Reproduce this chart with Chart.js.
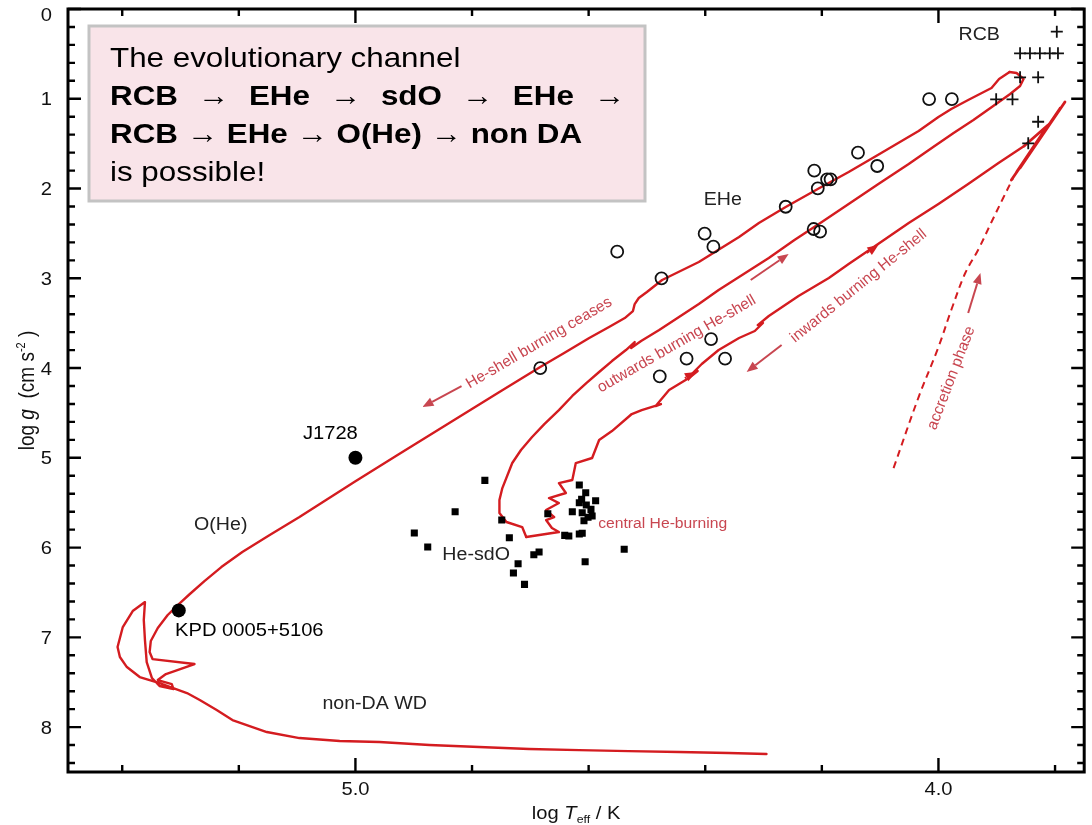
<!DOCTYPE html>
<html>
<head>
<meta charset="utf-8">
<title>Kiel diagram – He-rich stars</title>
<script src="https://cdn.jsdelivr.net/npm/chart.js@4/dist/chart.umd.min.js"></script>
<style>
  html, body { margin: 0; padding: 0; background: #fff; }
  #wrap { width: 1092px; height: 825px; position: relative; }
</style>
</head>
<body>
<div id="wrap"><canvas id="kiel"></canvas></div>
<script>
// ─── Observed stars (log Teff, log g) ─────────────────────────────────────

const rcbTeff = [3.797, 3.860, 3.843, 3.826, 3.809, 3.795, 3.860, 3.829, 3.901, 3.873, 3.829, 3.846];
const rcbLogg = [0.253, 0.494, 0.494, 0.494, 0.494, 0.494, 0.761, 0.761, 1.006, 1.006, 1.256, 1.496];

const eheTeff = [4.551, 4.475, 4.401, 4.386, 4.262, 4.213, 4.191, 4.185, 4.207, 4.138,
                 4.105, 4.214, 4.203, 4.390, 4.432, 4.366, 4.478, 4.683, 4.016, 3.977];
const eheLogg = [2.704, 3.000, 2.503, 2.648, 2.203, 1.801, 1.897, 1.897, 1.998, 1.601,
                 1.749, 2.451, 2.481, 3.677, 3.896, 3.896, 4.092, 4.000, 1.003, 1.003];

const sdoTeff = [4.778, 4.829, 4.899, 4.876, 4.749, 4.736, 4.721, 4.729, 4.710, 4.694,
                 4.685, 4.670, 4.641, 4.634, 4.616, 4.611, 4.606, 4.539, 4.616, 4.605,
                 4.612, 4.588, 4.628, 4.616, 4.604, 4.596, 4.611, 4.594, 4.608, 4.601];
const sdoLogg = [5.251, 5.601, 5.838, 5.994, 5.693, 5.890, 6.180, 6.284, 6.410, 6.080,
                 6.050, 5.623, 5.864, 5.871, 5.849, 5.841, 6.158, 6.019, 5.303, 5.389,
                 5.462, 5.478, 5.601, 5.500, 5.526, 5.574, 5.612, 5.648, 5.701, 5.663];

const hotNames = ['J1728', 'KPD 0005+5106'];
const hotTeff  = [5.000, 5.303];
const hotLogg  = [5.000, 6.700];

// ─── Merger track, split where the phases change ──────────────────────────

const spikeTeff = [3.875, 3.783, 3.860, 3.791, 3.866, 3.812, 3.853];
const spikeLogg = [1.905, 1.036, 1.771, 1.103, 1.816, 1.292, 1.526];

const inwardTeff = [3.853, 3.897, 3.949, 4.000, 4.051, 4.106, 4.154, 4.188, 4.240, 4.291,
                    4.310, 4.301, 4.315, 4.342, 4.377, 4.406, 4.423, 4.413, 4.428, 4.462,
                    4.485, 4.476, 4.509, 4.526, 4.560, 4.582, 4.594, 4.622, 4.628, 4.651,
                    4.639, 4.668, 4.651, 4.673, 4.659, 4.673, 4.663, 4.651, 4.707];
const inwardLogg = [1.526, 1.716, 1.950, 2.172, 2.384, 2.629, 2.841, 2.997, 3.197, 3.420,
                    3.521, 3.498, 3.587, 3.665, 3.799, 3.955, 4.066, 4.033, 4.111, 4.245,
                    4.423, 4.401, 4.468, 4.512, 4.702, 4.802, 5.002, 5.058, 5.247, 5.281,
                    5.392, 5.448, 5.504, 5.582, 5.660, 5.693, 5.782, 5.827, 5.882];

const outwardTeff = [4.707, 4.714, 4.741, 4.753, 4.753, 4.748, 4.731, 4.716, 4.697, 4.676,
                     4.651, 4.628, 4.604, 4.582, 4.560, 4.536, 4.521, 4.527, 4.510, 4.479,
                     4.445, 4.411, 4.377, 4.334, 4.291, 4.247, 4.200, 4.154, 4.103, 4.051,
                     4.009, 3.974, 3.940, 3.906, 3.877, 3.860, 3.854, 3.866, 3.878];
const outwardLogg = [5.882, 5.771, 5.715, 5.615, 5.470, 5.337, 5.058, 4.913, 4.768, 4.624,
                     4.468, 4.311, 4.167, 4.044, 3.922, 3.799, 3.710, 3.777, 3.699, 3.576,
                     3.431, 3.287, 3.131, 2.952, 2.774, 2.574, 2.373, 2.172, 1.950, 1.727,
                     1.537, 1.381, 1.237, 1.081, 0.947, 0.858, 0.780, 0.713, 0.702];

const coolingTeff = [3.878, 3.896, 3.909, 3.949, 3.978, 4.000, 4.034, 4.069, 4.104, 4.154,
                     4.207, 4.262, 4.308, 4.342, 4.411, 4.474, 4.500, 4.514, 4.521, 4.524,
                     4.538, 4.565, 4.599, 4.642, 4.683, 4.753, 4.839, 4.925, 5.002, 5.096,
                     5.147, 5.194, 5.230, 5.259, 5.284, 5.301, 5.322, 5.339, 5.351, 5.353,
                     5.348, 5.276, 5.325, 5.339, 5.315, 5.312, 5.336, 5.349, 5.358, 5.361,
                     5.363, 5.361, 5.382, 5.399, 5.408, 5.404, 5.392, 5.370, 5.336, 5.289,
                     5.267, 5.238, 5.211, 5.152, 5.096, 5.027, 4.959, 4.873, 4.788, 4.702,
                     4.616, 4.531, 4.445, 4.360, 4.295];
const coolingLogg = [0.702, 0.780, 0.880, 1.014, 1.114, 1.203, 1.359, 1.493, 1.627, 1.816,
                     2.005, 2.206, 2.384, 2.540, 2.819, 3.019, 3.153, 3.220, 3.287, 3.365,
                     3.443, 3.543, 3.665, 3.833, 3.988, 4.267, 4.612, 4.958, 5.270, 5.660,
                     5.860, 6.049, 6.217, 6.373, 6.517, 6.618, 6.751, 6.896, 7.041, 7.164,
                     7.242, 7.297, 7.409, 7.476, 7.520, 7.576, 7.542, 7.453, 7.275, 7.030,
                     6.807, 6.607, 6.707, 6.885, 7.108, 7.219, 7.331, 7.442, 7.509, 7.620,
                     7.698, 7.810, 7.921, 8.055, 8.122, 8.155, 8.166, 8.200, 8.222, 8.244,
                     8.256, 8.267, 8.278, 8.289, 8.300];

const accretionTeff = [4.077, 4.034, 4.000, 3.978, 3.954, 3.932, 3.909, 3.889, 3.872];
const accretionLogg = [5.114, 4.323, 3.766, 3.353, 2.941, 2.685, 2.373, 2.106, 1.883];

// ─── Axis ticks ───────────────────────────────────────────────────────────

const xLabelTicks = [4.0, 5.0];
const yLabelTicks = [0, 1, 2, 3, 4, 5, 6, 7, 8];

// ─── Annotations (in data units) ──────────────────────────────────────────

const groupLabels = [
  ['RCB',       3.930, 0.290],
  ['EHe',       4.370, 2.128],
  ['O(He)',     5.231, 5.749],
  ['He-sdO',    4.793, 6.083],
  ['non-DA WD', 4.967, 7.743],
];
const starLabels = [
  [5.043, 4.735],
  [5.182, 6.930],
];
const phaseLabels = [
  ['He-shell burning ceases',   4.685, 3.721, -30.4],
  ['outwards burning He-shell', 4.449, 3.732, -30.0],
  ['inwards burning He-shell',  4.137, 3.086, -39.0],
  ['accretion phase',           3.978, 4.111, -69.0],
];
const centralLabel = ['central He-burning', 4.473, 5.738];

// [from Teff, from log g, to Teff, to log g]
const phaseArrows = [
  [4.818, 4.200, 4.885, 4.434],
  [4.322, 3.019, 4.257, 2.730],
  [4.269, 3.743, 4.329, 4.044],
  [3.949, 3.387, 3.928, 2.941],
];
const trackHeads = [
  [4.123, 2.718, 4.103, 2.629],
  [4.435, 4.111, 4.416, 4.044],
];

// ─── Styles ───────────────────────────────────────────────────────────────

const FONT     = '"Liberation Sans", Arial, Helvetica, sans-serif';
const RED      = 'rgb(212,28,32)';
const NOTE_RED = 'rgb(200,70,80)';
const WIDE     = 1.12;   // text is set a little wide

const pts = (xs, ys) => xs.map((x, i) => ({ x, y: ys[i] }));

function trackSet(xs, ys, extra) {
  return Object.assign({
    data: pts(xs, ys),
    showLine: true,
    borderColor: RED,
    borderWidth: 2.4,
    borderCapStyle: 'round',
    borderJoinStyle: 'round',
    pointRadius: 0,
    tension: 0,
    order: 3,
  }, extra || {});
}

// ─── Drawing helpers ──────────────────────────────────────────────────────

function wideText(ctx, str, x, y, align) {
  ctx.save();
  ctx.translate(x, y);
  ctx.scale(WIDE, 1);
  ctx.textAlign = align || 'left';
  ctx.fillText(str, 0, 0);
  ctx.restore();
}

// parts: [text, font, baseline shift]
function richRow(ctx, parts) {
  let w = 0;
  parts.forEach(p => { ctx.font = p[1]; w += ctx.measureText(p[0]).width; });
  let cx = -w / 2;
  ctx.textAlign = 'left';
  parts.forEach(p => {
    ctx.font = p[1];
    ctx.fillText(p[0], cx, p[2] || 0);
    cx += ctx.measureText(p[0]).width;
  });
}

function arrow(ctx, x0, y0, x1, y1, len, half) {
  const ang = Math.atan2(y1 - y0, x1 - x0);
  const bx = x1 - len * Math.cos(ang), by = y1 - len * Math.sin(ang);
  ctx.beginPath();
  ctx.moveTo(x0, y0);
  ctx.lineTo(bx, by);
  ctx.stroke();
  ctx.beginPath();
  ctx.moveTo(x1, y1);
  ctx.lineTo(bx + half * Math.sin(ang), by - half * Math.cos(ang));
  ctx.lineTo(bx - half * Math.sin(ang), by + half * Math.cos(ang));
  ctx.closePath();
  ctx.fill();
}

// ─── Frame, inward ticks, labels and the note box ─────────────────────────

const kielDecor = {
  id: 'kielDecor',
  afterDraw(chart) {
    const { ctx, chartArea: a, scales: { x, y } } = chart;
    const px = v => x.getPixelForValue(v);
    const py = v => y.getPixelForValue(v);
    const isMajor = (v, list) => list.some(m => Math.abs(m - v) < 1e-6);
    ctx.save();

    // tick marks point into the plot on all four sides
    ctx.strokeStyle = '#000';
    ctx.lineWidth = 2.4;
    ctx.beginPath();
    x.ticks.forEach(t => {
      const p = px(t.value);
      const len = isMajor(t.value, xLabelTicks) ? 14 : 7;
      ctx.moveTo(p, a.bottom); ctx.lineTo(p, a.bottom - len);
      ctx.moveTo(p, a.top);    ctx.lineTo(p, a.top + len);
    });
    y.ticks.forEach(t => {
      const p = py(t.value);
      const len = isMajor(t.value, yLabelTicks) ? 13 : 7;
      ctx.moveTo(a.left, p);  ctx.lineTo(a.left + len, p);
      ctx.moveTo(a.right, p); ctx.lineTo(a.right - len, p);
    });
    ctx.stroke();

    ctx.lineWidth = 3;
    ctx.strokeRect(a.left, a.top, a.right - a.left, a.bottom - a.top);

    // tick labels
    ctx.fillStyle = '#111';
    ctx.font = '18px ' + FONT;
    ctx.textBaseline = 'alphabetic';
    xLabelTicks.forEach(v => wideText(ctx, v.toFixed(1), px(v), a.bottom + 23, 'center'));
    // the top label sits just inside the frame
    yLabelTicks.forEach(v => wideText(ctx, String(v), a.left - 16, py(v) + (v === 0 ? 12 : 6.5), 'right'));

    // axis titles
    const midX = (a.left + a.right) / 2, midY = (a.top + a.bottom) / 2;
    ctx.save();
    ctx.translate(midX, a.bottom + 47);
    ctx.scale(WIDE, 1);
    richRow(ctx, [
      ['log ', '18px ' + FONT],
      ['T', 'italic 18px ' + FONT],
      ['eff', '11px ' + FONT, 4],
      [' / K', '18px ' + FONT],
    ]);
    ctx.restore();

    ctx.save();
    ctx.translate(34, midY);
    ctx.rotate(-Math.PI / 2);
    ctx.scale(1, WIDE);
    richRow(ctx, [
      ['log ', '19px ' + FONT],
      ['g', 'italic 19px ' + FONT],
      ['  (cm s', '19px ' + FONT],
      ['-2', '11px ' + FONT, -8],
      [' )', '19px ' + FONT],
    ]);
    ctx.restore();

    // group labels
    ctx.fillStyle = '#222';
    ctx.font = '17.5px ' + FONT;
    ctx.textBaseline = 'middle';
    groupLabels.forEach(([s, t, g]) => wideText(ctx, s, px(t), py(g), 'center'));
    ctx.fillStyle = '#000';
    ctx.font = '18px ' + FONT;
    starLabels.forEach(([t, g], i) => wideText(ctx, hotNames[i], px(t), py(g), 'center'));

    // phase notes along the track
    ctx.fillStyle = NOTE_RED;
    ctx.font = '15.5px ' + FONT;
    phaseLabels.forEach(([s, t, g, deg]) => {
      ctx.save();
      ctx.translate(px(t), py(g));
      ctx.rotate(deg * Math.PI / 180);
      ctx.textAlign = 'center';
      ctx.fillText(s, 0, 0);
      ctx.restore();
    });
    ctx.font = '14px ' + FONT;
    wideText(ctx, centralLabel[0], px(centralLabel[1]), py(centralLabel[2]), 'center');

    ctx.strokeStyle = NOTE_RED;
    ctx.lineWidth = 2;
    phaseArrows.forEach(([t0, g0, t1, g1]) => arrow(ctx, px(t0), py(g0), px(t1), py(g1), 11, 4.5));
    ctx.fillStyle = RED;
    ctx.strokeStyle = RED;
    trackHeads.forEach(([t0, g0, t1, g1]) => arrow(ctx, px(t0), py(g0), px(t1), py(g1), 11, 4.5));

    // note box
    const bx = a.left + 21, by = a.top + 17, bw = 556, bh = 175;
    ctx.fillStyle = 'rgb(249,228,233)';
    ctx.fillRect(bx, by, bw, bh);
    ctx.strokeStyle = '#c3c3c3';
    ctx.lineWidth = 3;
    ctx.strokeRect(bx, by, bw, bh);

    ctx.fillStyle = '#000';
    ctx.textBaseline = 'alphabetic';
    const tx = bx + 21;
    ctx.font = '28px ' + FONT;
    wideText(ctx, 'The evolutionary channel', tx, by + 41, 'left');
    wideText(ctx, 'is possible!', tx, by + 155, 'left');

    ctx.font = 'bold 28px ' + FONT;
    // second line is justified to the box width
    const words = ['RCB', '→', 'EHe', '→', 'sdO', '→', 'EHe', '→'];
    const span = 515;
    const widths = words.map(w => ctx.measureText(w).width * WIDE);
    const gap = (span - widths.reduce((s, w) => s + w, 0)) / (words.length - 1);
    let cx = tx;
    words.forEach((w, i) => { wideText(ctx, w, cx, by + 79, 'left'); cx += widths[i] + gap; });
    wideText(ctx, 'RCB → EHe → O(He) → non DA', tx, by + 117, 'left');

    ctx.restore();
  }
};

// ─── Chart ────────────────────────────────────────────────────────────────

new Chart(document.getElementById('kiel'), {
  type: 'scatter',
  data: {
    datasets: [
      {
        label: 'RCB',
        data: pts(rcbTeff, rcbLogg),
        pointStyle: 'cross',
        pointRadius: 6,
        borderColor: '#111',
        borderWidth: 1.8,
        order: 0,
      },
      {
        label: 'EHe',
        data: pts(eheTeff, eheLogg),
        pointStyle: 'circle',
        pointRadius: 6,
        backgroundColor: 'rgba(0,0,0,0)',
        borderColor: '#111',
        borderWidth: 1.8,
        order: 0,
      },
      {
        label: 'He-sdO',
        data: pts(sdoTeff, sdoLogg),
        pointStyle: 'rect',
        pointRadius: 5,
        backgroundColor: '#000',
        borderWidth: 0,
        order: 0,
      },
      {
        label: 'hot He-rich stars',
        data: pts(hotTeff, hotLogg),
        pointStyle: 'circle',
        pointRadius: 7,
        backgroundColor: '#000',
        borderWidth: 0,
        order: 0,
      },
      trackSet(spikeTeff, spikeLogg, { label: 'accretion peak', borderWidth: 2.8 }),
      trackSet(inwardTeff, inwardLogg, { label: 'inwards burning' }),
      trackSet(outwardTeff, outwardLogg, { label: 'outwards burning' }),
      trackSet(coolingTeff, coolingLogg, { label: 'He-shell burning ceases' }),
      trackSet(accretionTeff, accretionLogg, {
        label: 'accretion phase',
        borderWidth: 2,
        borderDash: [7, 5],
        borderCapStyle: 'butt',
        tension: 0.35,
      }),
    ],
  },
  options: {
    responsive: true,
    maintainAspectRatio: false,
    animation: false,
    layout: { padding: { top: 9, right: 6, left: 0, bottom: 0 } },
    plugins: {
      legend: { display: false },
      tooltip: { enabled: false },
    },
    scales: {
      x: {
        type: 'linear',
        position: 'bottom',
        reverse: true,
        min: 3.75,
        max: 5.493,
        ticks: { display: false, stepSize: 0.2, includeBounds: false },
        grid: { display: false },
        border: { display: false },
        afterFit(s) { s.height = 53; },
      },
      y: {
        type: 'linear',
        position: 'left',
        reverse: true,
        min: 0,
        max: 8.5,
        ticks: { display: false, stepSize: 0.2, includeBounds: false },
        grid: { display: false },
        border: { display: false },
        afterFit(s) { s.width = 68; },
      },
    },
  },
  plugins: [kielDecor],
});
</script>
</body>
</html>
